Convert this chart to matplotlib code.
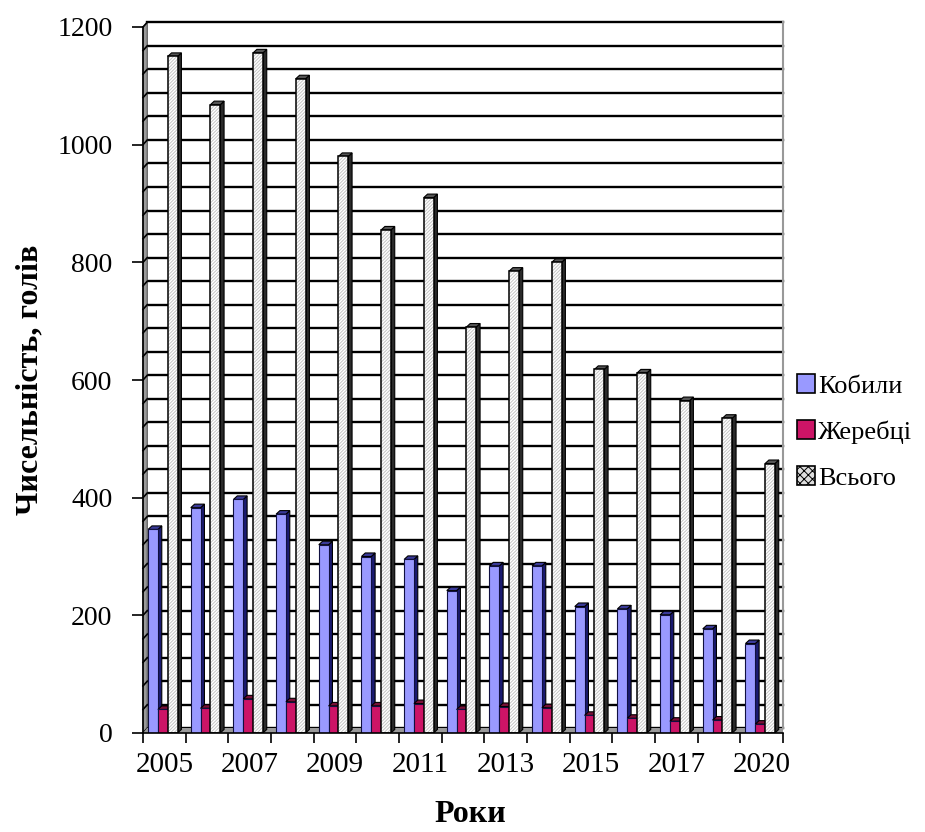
import numpy as np
import matplotlib.pyplot as plt
from matplotlib.patches import Polygon, Patch

plt.rcParams['font.family'] = ['Liberation Serif', 'DejaVu Serif']
plt.rcParams['hatch.linewidth'] = 0.7

years = [2005, 2006, 2007, 2008, 2009, 2010, 2011, 2012, 2013, 2014,
         2015, 2016, 2017, 2018, 2020]
mares = [346, 383, 397, 372, 320, 300, 295, 242, 284, 284,
         215, 211, 201, 177, 152]
stallions = [40, 42, 58, 53, 46, 46, 50, 40, 45, 43,
             30, 25, 20, 22, 15]
total = [1150, 1068, 1156, 1112, 980, 855, 910, 690, 785, 800,
         618, 612, 565, 535, 458]
year_labels = ['2005', '', '2007', '', '2009', '', '2011', '', '2013', '',
               '2015', '', '2017', '', '2020']
series_names = ['Кобили', 'Жеребці', 'Всього']

n = len(years)
x = np.arange(n)

# pseudo-3d depth in data units
dx, dy = 0.09, 6.0        # bar side/top depth
wdx, wdy = 0.10, 8.0      # back wall offset
bw = 0.23

fig = plt.figure(figsize=(9.25, 8.32), dpi=100)
ax = fig.add_axes([143 / 925, 99 / 832, 640 / 925, 706 / 832])
ax.set_xlim(-0.5, n - 0.5)
ax.set_ylim(0, 1200)

# back wall gridlines, left wall and floor
grid_vals = np.arange(0, 1201, 40)
for v in grid_vals:
    ax.plot([-0.5 + wdx, n - 0.5], [v + wdy, v + wdy], color='black',
            lw=1.7, zorder=1, clip_on=False)
ax.add_patch(Polygon([(-0.5, 0), (-0.5 + wdx, wdy), (-0.5 + wdx, 1200 + wdy),
                      (-0.5, 1200)], closed=True, facecolor='#9a9a9a',
                     edgecolor='#555555', lw=0.8, zorder=2, clip_on=False))
for v in grid_vals:
    ax.plot([-0.5, -0.5 + wdx], [v, v + wdy], color='black', lw=1.2,
            zorder=2, clip_on=False)
ax.add_patch(Polygon([(-0.5, 0), (n - 0.5, 0), (n - 0.5, wdy),
                      (-0.5 + wdx, wdy)], closed=True, facecolor='#9a9a9a',
                     edgecolor='none', zorder=2, clip_on=False))
ax.plot([n - 0.5, n - 0.5], [wdy, 1200 + wdy], color='#999999', lw=1.5,
        zorder=1, clip_on=False)


def draw_bars(left, heights, face, side, top, z, hatch=None):
    for xl, h in zip(left, heights):
        xr = xl + bw
        ax.add_patch(Polygon([(xr, 0), (xr + dx, dy), (xr + dx, h + dy), (xr, h)],
                             closed=True, facecolor=side, edgecolor='black',
                             lw=0.8, zorder=z))
        ax.add_patch(Polygon([(xl, h), (xl + dx, h + dy), (xr + dx, h + dy), (xr, h)],
                             closed=True, facecolor=top, edgecolor='black',
                             lw=0.8, zorder=z))
    if hatch:
        ax.bar(left, heights, width=bw, align='edge', color='white',
               edgecolor='#c4c4c4', hatch=hatch, lw=0, zorder=z + 0.1)
        ax.bar(left, heights, width=bw, align='edge', fill=False,
               edgecolor='black', lw=1.1, zorder=z + 0.2)
    else:
        ax.bar(left, heights, width=bw, align='edge', color=face,
               edgecolor='#101040', lw=0.8, zorder=z + 0.1)


draw_bars(x - 0.5 + 0.12, mares, '#9999ff', '#1a1a70', '#3a3a9a', 3)
draw_bars(x - 0.5 + 0.35, stallions, '#cc1466', '#5a0a2c', '#7a1038', 4)
draw_bars(x - 0.5 + 0.58, total, 'white', '#2a2a2a', '#555555', 5,
          hatch='/' * 10)

# axes styling
for s in ['top', 'right', 'bottom']:
    ax.spines[s].set_visible(False)
ax.spines['left'].set_linewidth(1.2)
ax.spines['left'].set_zorder(6)
ax.axhline(0, color='black', lw=1.2, zorder=6, clip_on=False)

ax.set_yticks(np.arange(0, 1201, 200))
ax.tick_params(axis='y', length=8, width=1.2, pad=14, labelsize=20)

ax.set_xticks(np.arange(-0.5, n, 1.0))
ax.set_xticklabels([])
ax.set_xticks(x, minor=True)
ax.set_xticklabels(year_labels, minor=True)
ax.tick_params(axis='x', which='major', length=7, width=1.2)
ax.tick_params(axis='x', which='minor', length=0, pad=14, labelsize=21)

fig.text(30 / 925, 1 - 380 / 832, 'Чисельність, голів', rotation=90,
         ha='center', va='center', fontsize=23, fontweight='bold')
fig.text(470 / 925, 1 - 814 / 832, 'Роки', ha='center', va='center',
         fontsize=23, fontweight='bold')

handles = [Patch(facecolor='#9999ff', edgecolor='black', lw=1.2),
           Patch(facecolor='#cc1466', edgecolor='black', lw=1.2),
           Patch(facecolor='#dddddd', edgecolor='black', lw=1.2, hatch='xxxx')]
fig.legend(handles, series_names, loc='center left',
           bbox_to_anchor=(786 / 925, 1 - 432 / 832), frameon=False,
           fontsize=19, handlelength=0.7, handleheight=0.7,
           handletextpad=0.12, labelspacing=0.85, borderaxespad=0)

fig.savefig('out.png', dpi=100)
